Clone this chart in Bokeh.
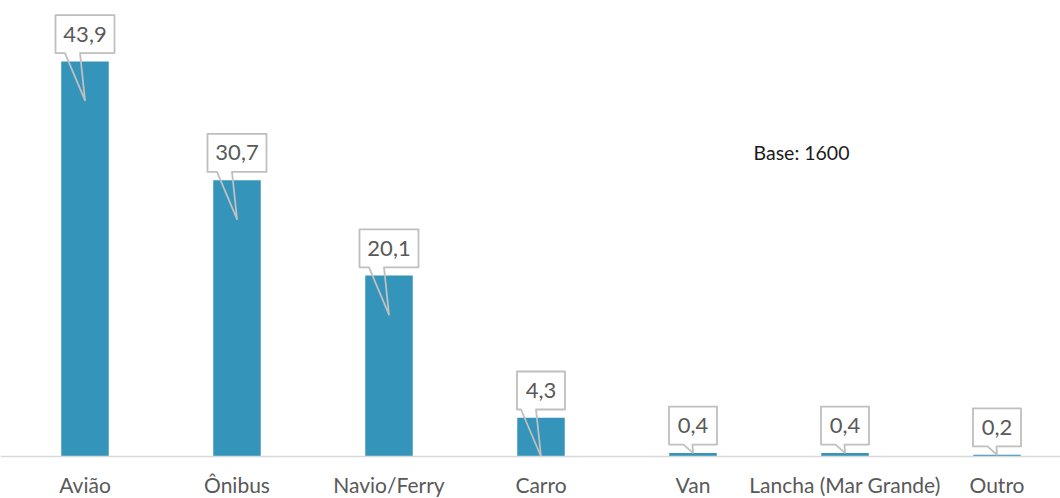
from bokeh.plotting import figure
from bokeh.models import Range1d, Span
from bokeh.core.properties import value
from bokeh.embed import file_html
from bokeh.resources import INLINE

# ---- data ----
categories = ["Avião", "Ônibus", "Navio/Ferry", "Carro", "Van", "Lancha (Mar Grande)", "Outro"]
values = [43.9, 30.7, 20.1, 4.3, 0.4, 0.4, 0.2]
note = "Base: 1600"

# ---- layout ----
W, H = 1060, 498
X0 = -84.5 / 152.0
X1 = X0 + W / 152.0
Y1 = 456.0 / 9.0
Y0 = -(H - 456.0) / 9.0
PXX = W / (X1 - X0)   # px per x unit
PXY = H / (Y1 - Y0)   # px per y unit

BAR_COLOR = "#3494ba"
TEXT_COLOR = "#595959"
BOX_LINE = "#bfbfbf"

p = figure(width=W, height=H, output_backend="svg", toolbar_location=None,
           x_range=Range1d(X0, X1), y_range=Range1d(Y0, Y1),
           min_border=0, min_border_left=0, min_border_right=0,
           min_border_top=0, min_border_bottom=0)
p.xaxis.visible = False
p.yaxis.visible = False
p.grid.visible = False
p.outline_line_color = None
p.background_fill_color = "white"
p.border_fill_color = "white"

xs = list(range(len(categories)))
p.vbar(x=xs, top=values, width=47.5 / PXX, bottom=0,
       fill_color=BAR_COLOR, line_color=None)

p.add_layout(Span(location=0, dimension="width", line_color="#d9d9d9", line_width=1.5))

# ---- callouts ----
labels = [f"{v:.1f}".replace(".", ",") for v in values]
poly_x, poly_y, tx, ty = [], [], [], []
gap_px, box_h_px, tip_px = 8.3, 38.0, 39.0
for i, (v, lab) in enumerate(zip(values, labels)):
    w_px = 11 * len(lab) + 15
    half = w_px / 2 / PXX
    bottom = v + gap_px / PXY
    top = bottom + box_h_px / PXY
    tip_v = v - tip_px / PXY
    if tip_v < -0.05:
        tip_v = v
    tip_v = max(tip_v, 0.0)
    d_px = (bottom - tip_v) * PXY
    if d_px > 20:
        ro, lo = 5, 20
    else:
        ro, lo = 0.5, 9.5
    cx = i
    pxs = [cx - half, cx + half, cx + half, cx - ro / PXX, cx, cx - lo / PXX, cx - half]
    pys = [top, top, bottom, bottom, tip_v, bottom, bottom]
    poly_x.append(pxs)
    poly_y.append(pys)
    tx.append(cx)
    ty.append((top + bottom) / 2)

p.patches(xs=poly_x, ys=poly_y, fill_color=None, line_color=BOX_LINE, line_width=1.8,
          line_join="round")
p.text(x=tx, y=ty, text=labels, text_align="center", text_baseline="middle",
       text_font=value("Lato"), text_font_size="22px", text_color=TEXT_COLOR)

# ---- category labels ----
label_y = -28.0 / PXY
p.text(x=xs, y=[label_y] * len(xs), text=categories, text_align="center",
       text_baseline="middle", text_font=value("Lato"), text_font_size="21px",
       text_color=TEXT_COLOR)

# ---- base note ----
p.text(x=[(801 - 84.5) / PXX], y=[(456 - 152) / PXY], text=[note], text_align="center",
       text_baseline="middle", text_font=value("Lato"), text_font_size="19.5px",
       text_color="#1a1a1a")

open("out.html", "w").write(file_html(p, INLINE))
